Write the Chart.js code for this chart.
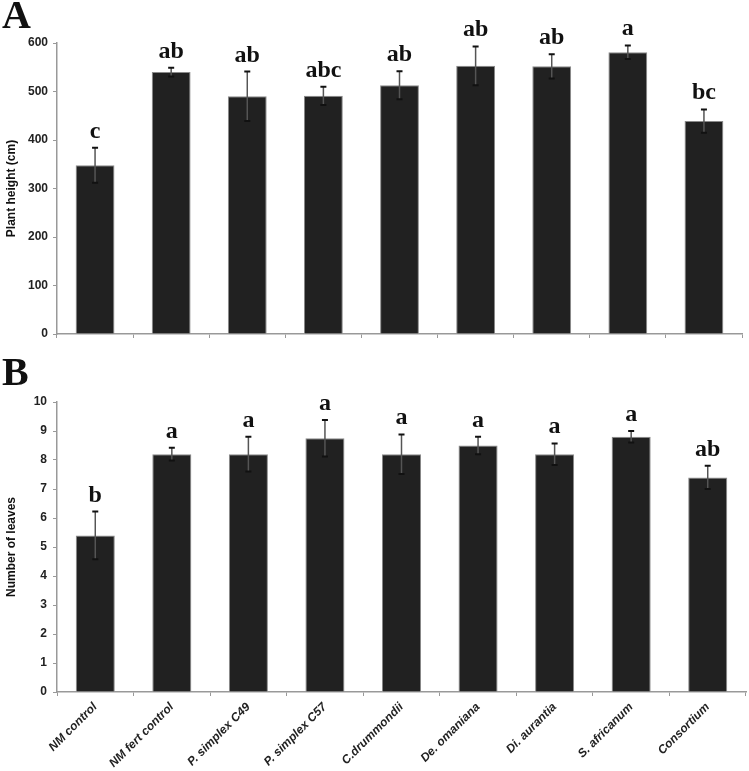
<!DOCTYPE html>
<html>
<head>
<meta charset="utf-8">
<script src="https://cdn.jsdelivr.net/npm/chart.js@4.4.1/dist/chart.umd.min.js"></script>
<style>
  body { margin: 0; background: #fff; }
  #wrap { position: relative; width: 749px; height: 771px; overflow: hidden; }
  .panel { position: absolute; left: 0; width: 749px; }
  .tag { position: absolute; left: 2px; font: bold 40px "Liberation Serif", "Times New Roman", serif; line-height: 1; color: #111; }
</style>
</head>
<body>
<div id="wrap">
  <div class="panel" style="top:0;height:350px"><canvas id="chartA"></canvas></div>
  <div class="panel" style="top:355px;height:416px"><canvas id="chartB"></canvas></div>
  <div class="tag" style="top:-5px">A</div>
  <div class="tag" style="top:352px">B</div>
</div>
<script>
const treatments = ["NM control", "NM fert control", "P. simplex C49", "P. simplex C57",
  "C.drummondii", "De. omaniana", "Di. aurantia", "S. africanum", "Consortium"];

const heightMean = [348, 540, 490, 491, 513, 553, 552, 581, 439];
const heightErr = [36, 9, 51, 19, 29, 40, 25, 14, 24];
const heightLetters = ["c", "ab", "ab", "abc", "ab", "ab", "ab", "a", "bc"];

const leavesMean = [5.4, 8.2, 8.2, 8.75, 8.2, 8.5, 8.2, 8.8, 7.4];
const leavesErr = [0.82, 0.22, 0.6, 0.63, 0.68, 0.3, 0.37, 0.2, 0.4];
const leavesLetters = ["b", "a", "a", "a", "a", "a", "a", "a", "ab"];

const axisGrey = "#999";
const sansBold = { family: '"Liberation Sans", Arial, sans-serif', weight: "bold", size: 12 };

// error bars + significance letters, positioned through the chart's scales
const markers = {
  id: "markers",
  afterDatasetsDraw(chart, args, opts) {
    const ctx = chart.ctx;
    const xs = chart.scales.x, ys = chart.scales.y;
    ctx.save();
    opts.means.forEach((m, i) => {
      const x = xs.getPixelForValue(i);
      const top = ys.getPixelForValue(m + opts.errs[i]);
      const bot = ys.getPixelForValue(m - opts.errs[i]);
      ctx.strokeStyle = "#555";
      ctx.lineWidth = 1.5;
      ctx.beginPath();
      ctx.moveTo(x, top);
      ctx.lineTo(x, bot);
      ctx.stroke();
      ctx.strokeStyle = "#111";
      ctx.lineWidth = 2;
      ctx.beginPath();
      ctx.moveTo(x - 3, top); ctx.lineTo(x + 3, top);
      ctx.moveTo(x - 3, bot); ctx.lineTo(x + 3, bot);
      ctx.stroke();
      ctx.fillStyle = "#111";
      ctx.font = 'bold 24px "Liberation Serif", "Times New Roman", serif';
      ctx.textAlign = "center";
      ctx.textBaseline = "alphabetic";
      ctx.fillText(opts.letters[i], x, top - 10);
    });
    ctx.restore();
  }
};

function makePanel(id, means, errs, letters, yMax, yStep, yTitle, padTop, padRight, xHeight, showLabels, tickPad) {
  return new Chart(document.getElementById(id), {
    type: "bar",
    data: {
      labels: treatments,
      datasets: [{
        data: means,
        backgroundColor: "#212121",
        borderColor: "#8a8a8a",
        borderWidth: 1,
        categoryPercentage: 1,
        barPercentage: 0.51
      }]
    },
    options: {
      responsive: true,
      maintainAspectRatio: false,
      animation: false,
      layout: { padding: { top: padTop, right: padRight, left: 0, bottom: 0 } },
      plugins: {
        legend: { display: false },
        tooltip: { enabled: false },
        markers: { means: means, errs: errs, letters: letters }
      },
      scales: {
        x: {
          grid: { offset: true, drawOnChartArea: false, tickLength: 4, color: axisGrey },
          border: { color: axisGrey, width: 1.5 },
          ticks: {
            display: showLabels,
            minRotation: 45,
            maxRotation: 45,
            padding: 4,
            color: "#222",
            font: { family: '"Liberation Sans", Arial, sans-serif', weight: "bold", style: "italic", size: 12 }
          },
          afterFit(scale) { scale.height = xHeight; }
        },
        y: {
          min: 0,
          max: yMax,
          ticks: { stepSize: yStep, color: "#222", font: sansBold, padding: tickPad },
          grid: { drawOnChartArea: false, tickLength: 4, color: axisGrey },
          border: { color: axisGrey, width: 1.5 },
          title: { display: true, text: yTitle, color: "#111", font: sansBold },
          afterFit(scale) { scale.width = 57; }
        }
      }
    },
    plugins: [markers]
  });
}

makePanel("chartA", heightMean, heightErr, heightLetters, 600, 100, "Plant height (cm)", 43, 7, 16, false, 5);
makePanel("chartB", leavesMean, leavesErr, leavesLetters, 10, 1, "Number of leaves", 47, 3, 79, true, 6);
</script>
</body>
</html>
